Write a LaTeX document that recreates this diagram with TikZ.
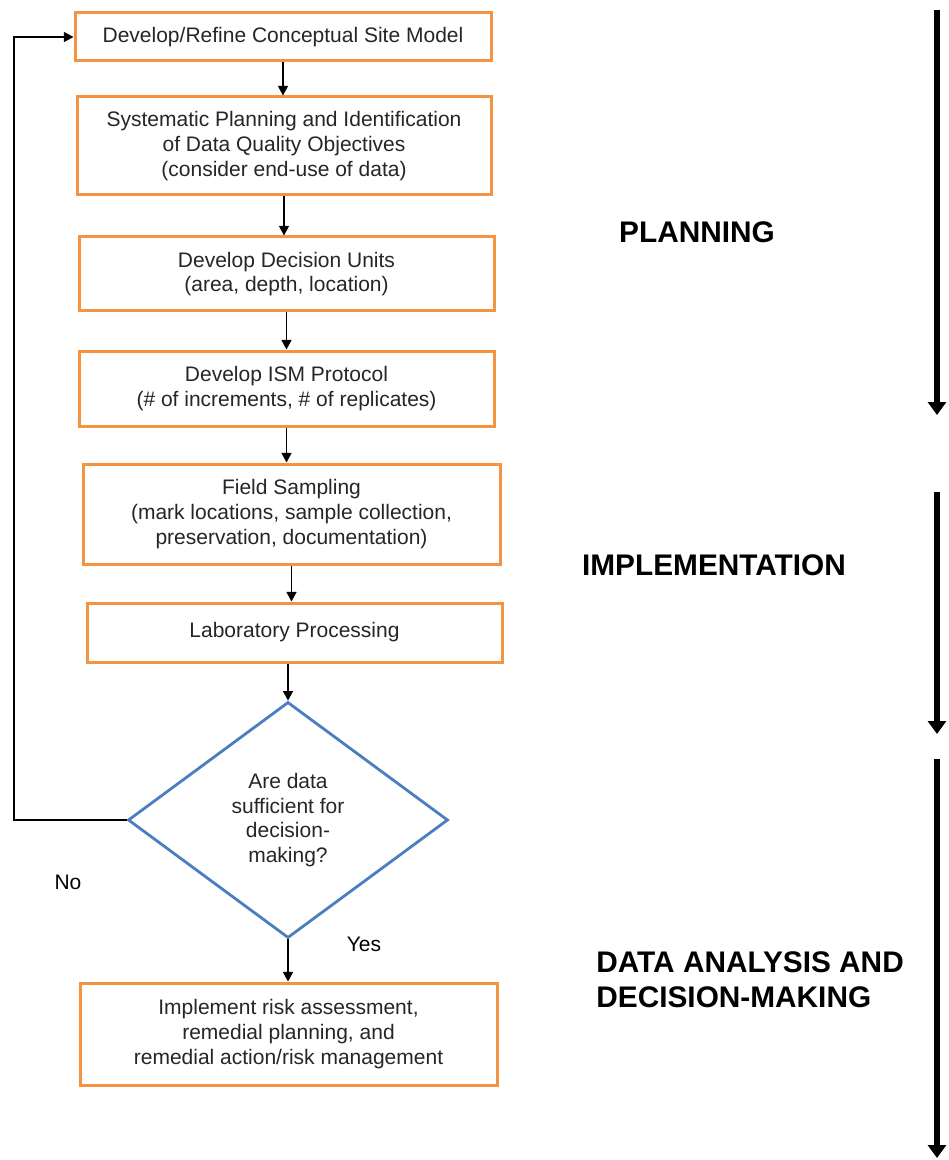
\documentclass[tikz,border=0pt]{standalone}
\usepackage{fontspec}
\setmainfont{Liberation Sans}
\usetikzlibrary{arrows.meta,shapes.geometric}
\definecolor{boxorange}{HTML}{F39443}
\definecolor{diablue}{HTML}{4A7EC0}
\definecolor{txtgray}{HTML}{262626}
\begin{document}
\begin{tikzpicture}[x=0.5pt,y=-0.5pt,
  flowbox/.style={draw=boxorange,line width=1.5pt,fill=white,inner sep=0pt,align=center,
    text=txtgray,font=\fontsize{10.5}{12.4}\selectfont},
  decision/.style={diamond,draw=diablue,line width=1.4pt,inner sep=0pt,align=center,
    text=txtgray,font=\fontsize{10.5}{12.3}\selectfont,minimum width=160pt,minimum height=118pt},
  flowarr/.style={-{Triangle[length=4.8pt,width=5pt]},line width=0.75pt,black},
  phasearr/.style={-{Triangle[length=6.5pt,width=9pt]},line width=2.6pt,black},
  phaselabel/.style={font=\fontsize{14.9}{17.5}\selectfont\bfseries,text=black,inner sep=0pt},
  answer/.style={font=\fontsize{10.5}{12.4}\selectfont,text=black,inner sep=0pt}]
\useasboundingbox (0,0) rectangle (948,1160);

\node[flowbox,minimum width=208pt,minimum height=24pt] (b1) at (283,37)
  {Develop/Refine Conceptual Site Model};
\node[flowbox,minimum width=207pt,minimum height=49pt] (b2) at (284,146)
  {Systematic Planning and Identification\\of Data Quality Objectives\\(consider end-use of data)};
\node[flowbox,minimum width=207.5pt,minimum height=37pt] (b3) at (286.5,274)
  {Develop Decision Units\\(area, depth, location)};
\node[flowbox,minimum width=207.5pt,minimum height=37.5pt] (b4) at (286.5,388.5)
  {Develop ISM Protocol\\(\# of increments, \# of replicates)};
\node[flowbox,minimum width=208.5pt,minimum height=50pt] (b5) at (291.5,514)
  {Field Sampling\\(mark locations, sample collection,\\preservation, documentation)};
\node[flowbox,minimum width=207.5pt,minimum height=29.5pt] (b6) at (294.5,632.5)
  {Laboratory Processing};
\node[decision] (d) at (288,820)
  {Are data\\sufficient for\\decision-\\making?};
\node[flowbox,minimum width=208.5pt,minimum height=51pt] (b7) at (288.5,1034)
  {Implement risk assessment,\\remedial planning, and\\remedial action/risk management};

\draw[flowarr] (b1.south) -- (b1.south |- b2.north);
\draw[flowarr] (b2.south) -- (b2.south |- b3.north);
\draw[flowarr] (b3.south) -- (b3.south |- b4.north);
\draw[flowarr] (b4.south) -- (b4.south |- b5.north);
\draw[flowarr] (b5.south) -- (b5.south |- b6.north);
\draw[flowarr] (d.north |- b6.south) -- (d.north);
\draw[flowarr] (d.south) -- (d.south |- b7.north);

\coordinate (loopx) at (14,0);
\draw[flowarr] (d.west) -- (d.west -| loopx) |- (b1.west);

\node[answer] (no) at (68,882) {No};
\node[answer] (yes) at (364,944) {Yes};

\coordinate (p1s) at (937,10);
\coordinate (p1e) at (937,415);
\coordinate (p2s) at (937,492);
\coordinate (p2e) at (937,734);
\coordinate (p3s) at (937,759);
\coordinate (p3e) at (937,1158);
\draw[phasearr] (p1s) -- (p1e);
\draw[phasearr] (p2s) -- (p2e);
\draw[phasearr] (p3s) -- (p3e);

\node[phaselabel] (plan) at (697,232) {PLANNING};
\node[phaselabel] (impl) at (714,565) {IMPLEMENTATION};
\node[phaselabel,align=left,anchor=west] (dam) at (596,980) {DATA ANALYSIS AND\\DECISION-MAKING};
\end{tikzpicture}
\end{document}
